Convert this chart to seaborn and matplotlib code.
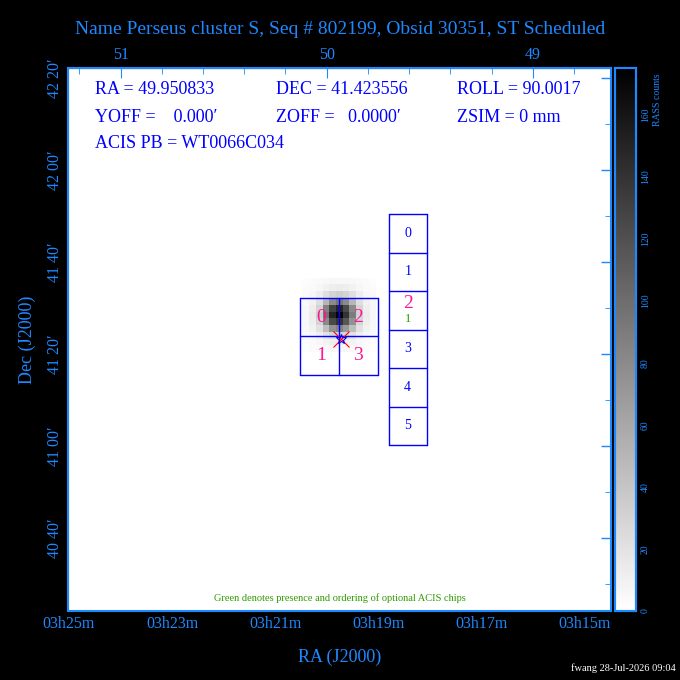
import numpy as np
import matplotlib
matplotlib.use("Agg")
import matplotlib.pyplot as plt
import seaborn as sns

sns.set_style("white")
plt.rcParams['font.family'] = ['Liberation Serif', 'DejaVu Serif']

BLUE = '#0000ff'
AXBLUE = '#1e88ff'
PINK = '#ff1493'
GREEN = '#2e9a00'

title = "Name Perseus cluster S, Seq # 802199, Obsid 30351, ST Scheduled"
info_rows = [["RA = 49.950833", "DEC = 41.423556", "ROLL = 90.0017"],
             ["YOFF =    0.000\u2032", "ZOFF =   0.0000\u2032", "ZSIM = 0 mm"],
             ["ACIS PB = WT0066C034", "", ""]]

# RA axis (deg, reversed), Dec axis (deg)
ra_lim = (51.255, 48.621)
dec_lim = (40.402, 42.370)
ra_top_ticks = [51, 50, 49]
ra_bot_ticks = [51.25, 50.75, 50.25, 49.75, 49.25, 48.75]
ra_bot_labels = ["03h25m", "03h23m", "03h21m", "03h19m", "03h17m", "03h15m"]
dec_ticks = [42 + 20/60, 42.0, 41 + 40/60, 41 + 20/60, 41.0, 40 + 40/60]
dec_labels = ["42 20\u2032", "42 00\u2032", "41 40\u2032", "41 20\u2032", "41 00\u2032", "40 40\u2032"]

# ACIS-I chips (2x2): ra edges, dec edges
i_ra = [50.131, 49.942, 49.752]
i_dec = [41.536, 41.397, 41.257]
i_labels = [["0", "2"], ["1", "3"]]
# ACIS-S chips (column of 6)
s_ra = [49.699, 49.515]
s_dec = [41.840, 41.701, 41.561, 41.422, 41.282, 41.143, 41.003]
s_labels = ["0", "1", "2", "3", "4", "5"]
pointing = (49.932, 41.387)

# RASS counts around the source (11x11 cells, top row first)
blob = [[2, 3, 4, 5, 6, 6, 6, 5, 4, 3, 2],
        [3, 4, 6, 9, 12, 13, 12, 9, 6, 4, 3],
        [4, 6, 12, 22, 30, 34, 30, 22, 12, 6, 4],
        [5, 9, 22, 50, 80, 95, 80, 50, 22, 9, 5],
        [6, 12, 30, 85, 130, 150, 125, 80, 30, 12, 6],
        [6, 13, 34, 95, 150, 172, 140, 90, 32, 13, 6],
        [6, 12, 30, 80, 125, 140, 115, 75, 28, 12, 6],
        [5, 9, 20, 45, 75, 85, 70, 45, 20, 9, 5],
        [4, 6, 11, 20, 28, 32, 28, 20, 11, 6, 4],
        [3, 4, 6, 9, 11, 12, 11, 9, 6, 4, 3],
        [2, 3, 4, 5, 6, 6, 6, 5, 4, 3, 2]]
blob_ra = (50.12, 49.76)
blob_dec = (41.34, 41.61)
vmax = 175
cbar_ticks = [0, 20, 40, 60, 80, 100, 120, 140, 160]

fig = plt.figure(figsize=(6.8, 6.8), dpi=100, facecolor='black')
W = H = 680
def px(x0, y0, x1, y1):
    return [x0 / W, 1 - y1 / H, (x1 - x0) / W, (y1 - y0) / H]

bg = fig.add_axes(px(68, 68, 611, 611), zorder=0)
bg.set_facecolor('white')
bg.set_xticks([]); bg.set_yticks([])

ax = fig.add_axes(px(68, 68, 611, 611), zorder=2)
ax.patch.set_alpha(0)
ax.set_xlim(*ra_lim)
ax.set_ylim(*dec_lim)

def to_px(ra, dec):
    return 121 + (51 - ra) * 206, 78 + (42 + 20/60 - dec) * 276

bx0, by0 = to_px(blob_ra[0], blob_dec[1])
bx1, by1 = to_px(blob_ra[1], blob_dec[0])
bax = fig.add_axes(px(bx0, by0, bx1, by1), zorder=1)
cax = fig.add_axes(px(615, 68, 636, 611))
sns.heatmap(np.array(blob), ax=bax, cmap='gray_r', vmin=0, vmax=vmax,
            cbar_ax=cax, xticklabels=False, yticklabels=False)
bax.patch.set_alpha(0)

for s in ax.spines.values():
    s.set_color(AXBLUE)
    s.set_linewidth(1.5)

ax.set_xticks(ra_bot_ticks)
ax.set_xticklabels(ra_bot_labels, color=AXBLUE, fontsize=11.5)
ax.set_yticks(dec_ticks)
ax.set_yticklabels(dec_labels, color=AXBLUE, fontsize=11.5, rotation=90, va='center')
ax.tick_params(direction='in', color=AXBLUE, length=7, width=1, top=False, right=True)
ax.set_xticks(np.arange(48.75, 51.3, 0.125), minor=True)
ax.set_yticks(np.arange(40.5, 42.4, 1/6), minor=True)
ax.tick_params(which='minor', direction='in', color=AXBLUE, length=4, right=True)
ax.set_xlabel("RA (J2000)", color=AXBLUE, fontsize=13, labelpad=12)
ax.set_ylabel("Dec (J2000)", color=AXBLUE, fontsize=13, labelpad=8)
top = ax.secondary_xaxis('top')
top.set_xticks(ra_top_ticks)
top.set_xticklabels([str(t) for t in ra_top_ticks], color=AXBLUE, fontsize=11.5)
top.set_xticks(np.arange(48.8, 51.3, 0.2), minor=True)
top.tick_params(direction='in', color=AXBLUE, length=7)
top.tick_params(which='minor', direction='in', color=AXBLUE, length=4)
top.spines['top'].set_color(AXBLUE)

# chips
for r in i_ra:
    ax.plot([r, r], [i_dec[0], i_dec[-1]], color=BLUE, lw=1)
for d in i_dec:
    ax.plot([i_ra[0], i_ra[-1]], [d, d], color=BLUE, lw=1)
for row in range(2):
    for col in range(2):
        ax.text(i_ra[col] + (i_ra[col + 1] - i_ra[col]) * (0.55 if col == 0 else 0.5),
                (i_dec[row] + i_dec[row + 1]) / 2, i_labels[row][col],
                color=PINK, fontsize=14, ha='center', va='center')
for r in s_ra:
    ax.plot([r, r], [s_dec[0], s_dec[-1]], color=BLUE, lw=1)
for d in s_dec:
    ax.plot([s_ra[0], s_ra[-1]], [d, d], color=BLUE, lw=1)
sx = (s_ra[0] + s_ra[1]) / 2
for i, lab in enumerate(s_labels):
    yc = (s_dec[i] + s_dec[i + 1]) / 2
    if lab == "2":
        ax.text(sx, yc + 0.025, lab, color=PINK, fontsize=14, ha='center', va='center')
        ax.text(sx, yc - 0.03, "1", color=GREEN, fontsize=9, ha='center', va='center')
    else:
        ax.text(sx, yc, lab, color=BLUE, fontsize=10, ha='center', va='center')

ax.plot(*pointing, marker='x', color='red', ms=12, mew=0.8)
ax.plot(*pointing, marker='*', color=BLUE, ms=7, mfc='none', mew=0.8)

for i, row in enumerate(info_rows):
    for j, t in enumerate(row):
        fig.text((95 + j * 181) / W, 1 - (90 + i * 27) / H, t, color=BLUE,
                 fontsize=13, va='center', ha='left')
fig.text(340 / W, 1 - 598 / H, "Green denotes presence and ordering of optional ACIS chips",
         color=GREEN, fontsize=7.5, ha='center', va='center')
fig.text(340 / W, 1 - 30 / H, title, color=AXBLUE, fontsize=14, ha='center', va='center')
fig.text(676 / W, 1 - 668 / H, "fwang 28-Jul-2026 09:04", color='white', fontsize=7.5,
         ha='right', va='center')

cax.set_yticks(cbar_ticks)
cax.set_yticklabels([str(t) for t in cbar_ticks], rotation=90, va='center', fontsize=7, color=AXBLUE)
cax.set_yticks(np.arange(10, 175, 20), minor=True)
cax.tick_params(direction='in', color=AXBLUE, length=4, left=True, right=True)
cax.tick_params(which='minor', direction='in', color=AXBLUE, length=4, left=True, right=True)
for s in cax.spines.values():
    s.set_visible(True)
    s.set_color(AXBLUE)
    s.set_linewidth(1.5)
fig.text(657 / W, 1 - 100 / H, "RASS counts", color=AXBLUE, fontsize=7, rotation=90,
         ha='center', va='center')

fig.savefig("out.png", dpi=100, facecolor='black')
